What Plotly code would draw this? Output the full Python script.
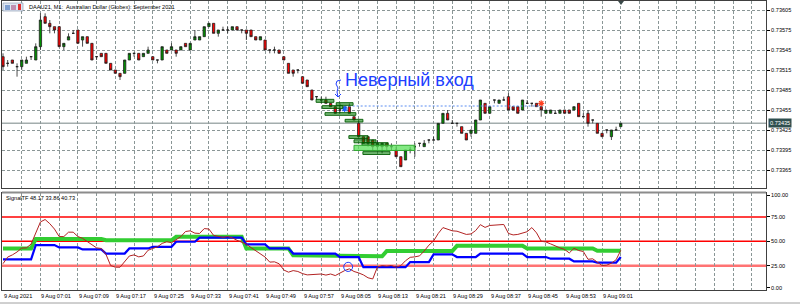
import plotly.graph_objects as go

# ---------------- data ----------------
bars = list(range(133))

open_ = [
    0.73535, 0.73525, 0.73530, 0.73520, 0.73520, 0.73525, 0.73535, 0.73530, 0.73550, 0.73595,
    0.73585, 0.73580, 0.73580, 0.73550, 0.73560, 0.73570, 0.73575, 0.73560, 0.73565, 0.73555,
    0.73535, 0.73540, 0.73540, 0.73525, 0.73515, 0.73510, 0.73510, 0.73530, 0.73540, 0.73540,
    0.73535, 0.73540, 0.73535, 0.73530, 0.73530, 0.73545, 0.73545, 0.73545, 0.73545, 0.73555,
    0.73545, 0.73560, 0.73560, 0.73565, 0.73580, 0.73585, 0.73570, 0.73575, 0.73575, 0.73575,
    0.73580, 0.73575, 0.73575, 0.73575, 0.73565, 0.73560, 0.73560, 0.73545, 0.73545, 0.73545,
    0.73535, 0.73525, 0.73515, 0.73515, 0.73505, 0.73500, 0.73485, 0.73475, 0.73470, 0.73470,
    0.73465, 0.73460, 0.73455, 0.73455, 0.73460, 0.73445, 0.73435, 0.73415, 0.73415, 0.73410,
    0.73400, 0.73400, 0.73405, 0.73400, 0.73395, 0.73385, 0.73380, 0.73395, 0.73400, 0.73405,
    0.73400, 0.73410, 0.73410, 0.73410, 0.73435, 0.73450, 0.73435, 0.73435, 0.73430, 0.73420,
    0.73420, 0.73420, 0.73440, 0.73465, 0.73450, 0.73470, 0.73465, 0.73470, 0.73475, 0.73460,
    0.73460, 0.73455, 0.73465, 0.73465, 0.73465, 0.73460, 0.73450, 0.73450, 0.73450, 0.73450,
    0.73455, 0.73455, 0.73455, 0.73465, 0.73445, 0.73450, 0.73440, 0.73435, 0.73420, 0.73425,
    0.73415, 0.73425, 0.73430,
]
high = [
    0.73540, 0.73530, 0.73530, 0.73525, 0.73530, 0.73535, 0.73535, 0.73555, 0.73600, 0.73600,
    0.73590, 0.73580, 0.73580, 0.73555, 0.73570, 0.73575, 0.73575, 0.73565, 0.73565, 0.73555,
    0.73535, 0.73540, 0.73540, 0.73525, 0.73515, 0.73510, 0.73530, 0.73540, 0.73540, 0.73540,
    0.73540, 0.73550, 0.73535, 0.73530, 0.73550, 0.73545, 0.73555, 0.73545, 0.73550, 0.73555,
    0.73555, 0.73575, 0.73565, 0.73580, 0.73585, 0.73585, 0.73575, 0.73580, 0.73580, 0.73580,
    0.73580, 0.73575, 0.73575, 0.73575, 0.73565, 0.73565, 0.73560, 0.73545, 0.73550, 0.73545,
    0.73535, 0.73525, 0.73515, 0.73515, 0.73505, 0.73500, 0.73485, 0.73475, 0.73475, 0.73475,
    0.73465, 0.73460, 0.73465, 0.73460, 0.73465, 0.73445, 0.73440, 0.73415, 0.73415, 0.73410,
    0.73410, 0.73405, 0.73405, 0.73405, 0.73400, 0.73385, 0.73395, 0.73400, 0.73405, 0.73405,
    0.73410, 0.73410, 0.73415, 0.73435, 0.73450, 0.73455, 0.73440, 0.73435, 0.73430, 0.73420,
    0.73425, 0.73440, 0.73470, 0.73465, 0.73460, 0.73470, 0.73470, 0.73475, 0.73480, 0.73460,
    0.73460, 0.73470, 0.73470, 0.73465, 0.73465, 0.73460, 0.73455, 0.73455, 0.73455, 0.73455,
    0.73455, 0.73455, 0.73460, 0.73465, 0.73450, 0.73455, 0.73440, 0.73435, 0.73420, 0.73425,
    0.73425, 0.73430, 0.73435,
]
low = [
    0.73515, 0.73520, 0.73525, 0.73505, 0.73515, 0.73525, 0.73530, 0.73530, 0.73545, 0.73585,
    0.73570, 0.73570, 0.73550, 0.73545, 0.73560, 0.73570, 0.73555, 0.73550, 0.73555, 0.73530,
    0.73530, 0.73535, 0.73525, 0.73515, 0.73510, 0.73500, 0.73510, 0.73530, 0.73535, 0.73530,
    0.73535, 0.73540, 0.73530, 0.73525, 0.73530, 0.73540, 0.73545, 0.73535, 0.73545, 0.73550,
    0.73545, 0.73560, 0.73560, 0.73565, 0.73580, 0.73570, 0.73565, 0.73575, 0.73570, 0.73575,
    0.73575, 0.73570, 0.73560, 0.73565, 0.73560, 0.73560, 0.73545, 0.73540, 0.73540, 0.73540,
    0.73530, 0.73510, 0.73505, 0.73510, 0.73495, 0.73490, 0.73470, 0.73470, 0.73465, 0.73465,
    0.73460, 0.73450, 0.73450, 0.73455, 0.73450, 0.73440, 0.73415, 0.73405, 0.73400, 0.73395,
    0.73395, 0.73390, 0.73395, 0.73395, 0.73385, 0.73370, 0.73380, 0.73390, 0.73385, 0.73400,
    0.73400, 0.73405, 0.73410, 0.73410, 0.73435, 0.73440, 0.73435, 0.73430, 0.73420, 0.73410,
    0.73415, 0.73420, 0.73440, 0.73450, 0.73450, 0.73465, 0.73465, 0.73470, 0.73455, 0.73455,
    0.73450, 0.73455, 0.73465, 0.73460, 0.73460, 0.73445, 0.73450, 0.73450, 0.73450, 0.73450,
    0.73450, 0.73450, 0.73455, 0.73445, 0.73445, 0.73430, 0.73435, 0.73420, 0.73415, 0.73420,
    0.73410, 0.73425, 0.73430,
]
close = [
    0.73520, 0.73525, 0.73525, 0.73520, 0.73530, 0.73530, 0.73535, 0.73550, 0.73590, 0.73585,
    0.73580, 0.73575, 0.73550, 0.73555, 0.73565, 0.73570, 0.73555, 0.73565, 0.73555, 0.73530,
    0.73535, 0.73535, 0.73525, 0.73515, 0.73510, 0.73505, 0.73530, 0.73540, 0.73540, 0.73530,
    0.73540, 0.73545, 0.73530, 0.73530, 0.73550, 0.73540, 0.73550, 0.73540, 0.73550, 0.73550,
    0.73555, 0.73565, 0.73565, 0.73580, 0.73585, 0.73570, 0.73575, 0.73575, 0.73575, 0.73580,
    0.73575, 0.73575, 0.73570, 0.73565, 0.73560, 0.73565, 0.73545, 0.73545, 0.73545, 0.73540,
    0.73530, 0.73510, 0.73510, 0.73515, 0.73495, 0.73490, 0.73470, 0.73475, 0.73470, 0.73465,
    0.73460, 0.73450, 0.73455, 0.73460, 0.73450, 0.73440, 0.73415, 0.73405, 0.73405, 0.73400,
    0.73405, 0.73405, 0.73400, 0.73400, 0.73385, 0.73370, 0.73395, 0.73395, 0.73400, 0.73405,
    0.73405, 0.73410, 0.73410, 0.73435, 0.73450, 0.73440, 0.73435, 0.73435, 0.73420, 0.73410,
    0.73425, 0.73440, 0.73470, 0.73450, 0.73460, 0.73470, 0.73470, 0.73470, 0.73455, 0.73455,
    0.73450, 0.73470, 0.73465, 0.73465, 0.73460, 0.73455, 0.73455, 0.73455, 0.73450, 0.73455,
    0.73450, 0.73450, 0.73460, 0.73445, 0.73445, 0.73435, 0.73440, 0.73420, 0.73415, 0.73425,
    0.73425, 0.73425, 0.73435,
]

# SignalTF indicator (sub window)
sig_green = [
    42.6, 42.6, 42.6, 42.6, 42.6, 42.6, 42.6, 52.4, 52.4, 52.4,
    52.4, 52.4, 52.4, 52.4, 52.4, 52.4, 52.4, 52.4, 52.4, 52.4,
    52.4, 52.4, 51.0, 51.0, 51.0, 51.0, 51.0, 51.0, 51.0, 51.0,
    51.0, 51.0, 51.0, 51.0, 51.0, 51.0, 51.0, 54.5, 54.5, 54.5,
    54.5, 54.5, 54.5, 54.5, 54.5, 54.5, 54.5, 54.5, 54.5, 54.5,
    54.5, 54.5, 42.6, 42.6, 42.6, 42.6, 42.6, 42.6, 42.6, 42.6,
    42.6, 42.6, 35.6, 35.6, 35.6, 35.6, 35.6, 34.6, 34.6, 34.6,
    34.6, 34.6, 34.6, 34.6, 34.6, 34.6, 34.6, 34.6, 34.6, 34.6,
    34.6, 34.6, 40.0, 40.0, 40.0, 40.0, 40.0, 40.0, 40.0, 40.0,
    40.0, 40.0, 40.0, 40.0, 40.0, 40.0, 40.0, 45.3, 45.3, 45.3,
    45.3, 45.3, 45.3, 45.3, 45.3, 45.3, 45.3, 45.3, 45.3, 45.3,
    45.3, 45.3, 42.6, 42.6, 42.6, 42.6, 42.6, 42.6, 42.6, 42.6,
    42.6, 42.6, 42.6, 42.6, 42.6, 42.6, 42.6, 40.2, 40.2, 40.2,
    40.2, 40.2, 40.2,
]
sig_blue = [
    31.4, 31.4, 31.4, 31.4, 31.4, 31.4, 31.4, 46.1, 46.1, 46.1,
    46.1, 46.1, 43.7, 43.7, 43.7, 43.7, 43.7, 41.6, 41.6, 41.6,
    41.6, 41.6, 37.4, 37.4, 37.4, 37.4, 37.4, 42.6, 42.6, 42.6,
    42.6, 42.6, 44.3, 44.3, 44.3, 44.3, 44.3, 49.5, 49.5, 49.5,
    49.5, 49.5, 53.7, 53.7, 53.7, 53.7, 53.7, 53.7, 53.7, 53.7,
    53.7, 53.7, 46.8, 46.8, 46.8, 46.8, 46.8, 42.6, 42.6, 42.6,
    42.6, 42.6, 37.4, 37.4, 37.4, 37.4, 37.4, 37.4, 37.4, 37.4,
    37.4, 37.4, 33.8, 33.8, 33.8, 33.8, 33.8, 23.4, 23.4, 23.4,
    23.4, 23.4, 23.4, 23.4, 23.4, 23.4, 23.4, 28.6, 28.6, 28.6,
    28.6, 28.6, 36.6, 36.6, 36.6, 36.6, 36.6, 33.8, 33.8, 33.8,
    33.8, 33.8, 37.4, 37.4, 37.4, 37.4, 37.4, 37.4, 37.4, 37.4,
    37.4, 37.4, 33.8, 33.8, 33.8, 33.8, 33.8, 32.1, 32.1, 32.1,
    32.1, 32.1, 29.3, 29.3, 29.3, 29.3, 29.3, 28.0, 28.0, 28.0,
    28.0, 28.0, 33.9,
]
sig_brown = [
    27.0, 33.8, 36.0, 39.0, 43.0, 43.2, 47.1, 58.3, 69.8, 72.3,
    68.0, 62.5, 54.8, 54.8, 59.3, 59.3, 54.8, 53.0, 49.5, 46.0,
    43.2, 42.6, 36.6, 25.1, 23.4, 23.4, 29.3, 34.9, 36.0, 34.0,
    34.9, 40.8, 42.6, 44.3, 47.8, 49.5, 48.5, 52.0, 54.8, 60.0,
    60.7, 58.3, 58.0, 63.0, 62.5, 56.0, 54.8, 54.0, 54.8, 53.5,
    51.0, 49.0, 47.0, 43.5, 40.5, 37.4, 33.8, 28.6, 28.9, 26.9,
    20.5, 18.3, 19.9, 19.0, 16.8, 15.5, 16.0, 16.4, 16.4, 15.3,
    16.4, 14.8, 17.5, 19.9, 21.7, 19.0, 17.5, 15.5, 12.5, 11.3,
    23.6, 25.0, 24.5, 25.1, 23.4, 25.0, 30.0, 33.5, 34.0, 35.0,
    40.0, 46.0, 50.3, 58.0, 64.0, 62.0, 60.7, 60.3, 59.0, 57.0,
    57.5, 61.0, 67.0, 64.2, 66.2, 66.5, 66.5, 67.2, 58.0, 56.5,
    57.0, 58.5, 59.8, 64.0, 58.6, 50.0, 49.3, 47.3, 45.0, 43.2,
    41.6, 38.0, 42.8, 40.5, 39.5, 31.5, 32.0, 28.3, 25.1, 25.5,
    27.5, 31.0, 40.7,
]
levels = [75, 50, 25]

price_ticks = [0.73605, 0.73575, 0.73545, 0.73515, 0.73485, 0.73455, 0.73425, 0.73395, 0.73365]
last_price = 0.73435

time_tick_bars = [0, 8, 16, 24, 32, 40, 48, 56, 64, 72, 80, 88, 96, 104, 112, 120, 128]
time_tick_labels = ["9 Aug 2021", "9 Aug 07:01", "9 Aug 07:09", "9 Aug 07:17", "9 Aug 07:25",
                    "9 Aug 07:33", "9 Aug 07:41", "9 Aug 07:49", "9 Aug 07:57", "9 Aug 08:05",
                    "9 Aug 08:13", "9 Aug 08:21", "9 Aug 08:29", "9 Aug 08:37", "9 Aug 08:45",
                    "9 Aug 08:53", "9 Aug 09:01"]

# green zone boxes: bar0, bar1, price0, price1
box_bar0 = [66.9, 68.2, 71.2, 68.8, 73.1, 73.9, 75.0, 76.7, 76.9]
box_bar1 = [70.7, 72.6, 74.8, 75.4, 76.9, 78.0, 79.7, 82.3, 82.7]
box_p0 = [0.734665, 0.734573, 0.734620, 0.734470, 0.734370, 0.734123, 0.734058, 0.734020, 0.733883]
box_p1 = [0.734710, 0.734615, 0.734660, 0.734510, 0.734410, 0.734165, 0.734103, 0.734060, 0.733925]
big_box = [75.0, 88.0, 0.733943, 0.734021]

trade_bars = [73, 115]
trade_prices = [0.73461, 0.73461]
trade_open_p = 0.734565
trade_close_p = 0.73465

# ---------------- layout helpers ----------------
W, H = 800, 307
ML, MR, MT, MB = 2, 34, 1, 17
PW, PH = W - ML - MR, H - MT - MB


def px(x):
    return (x - ML) / PW


def py(y):
    return (H - MB - y) / PH


FONT = "Liberation Sans"
GRID = "#8a9696"

fig = go.Figure()

fig.add_trace(go.Candlestick(
    x=bars, open=open_, high=high, low=low, close=close,
    xaxis="x", yaxis="y", whiskerwidth=0, showlegend=False, hoverinfo="skip",
    increasing=dict(fillcolor="#009000", line=dict(color="#202020", width=0.8)),
    decreasing=dict(fillcolor="#FF0000", line=dict(color="#202020", width=0.8)),
))

# trade line + markers
fig.add_trace(go.Scatter(x=trade_bars, y=trade_prices, mode="lines", xaxis="x", yaxis="y",
                         line=dict(color="#5a8cf0", width=1, dash="2px,2px"),
                         showlegend=False, hoverinfo="skip"))
fig.add_trace(go.Scatter(x=[trade_bars[0]], y=[trade_open_p], mode="markers", xaxis="x", yaxis="y",
                         marker=dict(symbol="asterisk-open", size=5, color="#1e64ff",
                                     line=dict(color="#1e64ff", width=1.2)),
                         showlegend=False, hoverinfo="skip"))
fig.add_trace(go.Scatter(x=[trade_bars[1]], y=[trade_close_p], mode="markers", xaxis="x", yaxis="y",
                         marker=dict(symbol="asterisk-open", size=5, color="#ff4020",
                                     line=dict(color="#ff4020", width=1.2)),
                         showlegend=False, hoverinfo="skip"))

# indicator lines
fig.add_trace(go.Scatter(x=bars, y=sig_green, mode="lines", xaxis="x2", yaxis="y2",
                         line=dict(color="#32CD32", width=4), showlegend=False, hoverinfo="skip"))
fig.add_trace(go.Scatter(x=bars, y=sig_blue, mode="lines", xaxis="x2", yaxis="y2",
                         line=dict(color="#0000FF", width=2.2), showlegend=False, hoverinfo="skip"))
fig.add_trace(go.Scatter(x=bars, y=sig_brown, mode="lines", xaxis="x2", yaxis="y2",
                         line=dict(color="#B22222", width=1), showlegend=False, hoverinfo="skip"))

shapes = []
# green boxes
for b0, b1, p0, p1 in zip(box_bar0, box_bar1, box_p0, box_p1):
    shapes.append(dict(type="rect", xref="x", yref="y", x0=b0, x1=b1, y0=p0, y1=p1,
                       fillcolor="rgba(0,128,0,0.55)", line=dict(color="rgba(0,90,0,0.9)", width=1),
                       layer="above"))
shapes.append(dict(type="rect", xref="x", yref="y", x0=big_box[0], x1=big_box[1],
                   y0=big_box[2], y1=big_box[3], fillcolor="rgba(90,225,90,0.75)",
                   line=dict(color="rgba(50,170,50,1)", width=1), layer="above"))

# current price line
shapes.append(dict(type="line", xref="paper", yref="y", x0=0, x1=1, y0=last_price, y1=last_price,
                   line=dict(color="#a3adad", width=1.5), layer="below"))

# indicator levels
for lv in levels:
    if lv == 25:
        shapes.append(dict(type="line", xref="paper", yref="y2", x0=0, x1=1, y0=lv, y1=lv,
                           line=dict(color="rgba(255,90,90,0.85)", width=2.5), layer="below"))
    else:
        shapes.append(dict(type="line", xref="paper", yref="y2", x0=0, x1=1, y0=lv, y1=lv,
                           line=dict(color="#FF0000", width=1.5), layer="below"))
# sub window top separator
shapes.append(dict(type="line", xref="paper", yref="paper", x0=0, x1=1, y0=py(192.5), y1=py(192.5),
                   line=dict(color="#8c8c8c", width=2)))

# hand-drawn bracket with arrow
shapes.append(dict(type="path", xref="x", yref="y",
                   path="M 72.22 0.73500 L 71.37 0.734985 L 71.15 0.73494 L 71.58 0.73488 "
                        "L 71.37 0.73482 L 71.58 0.734745 M 70.94 0.73479 L 71.58 0.734745 L 72.22 0.73479",
                   line=dict(color="#2040ff", width=1)))
# hand-drawn circle in sub window
shapes.append(dict(type="circle", xref="x2", yref="y2", x0=72.8, x1=74.7, y0=19.0, y1=28.4,
                   line=dict(color="#2040ff", width=1)))

# header icon
shapes.append(dict(type="rect", xref="paper", yref="paper", x0=px(3), x1=px(23), y0=py(11), y1=py(3),
                   fillcolor="#dfe6f2", line=dict(color="#8090a8", width=0.6)))
shapes.append(dict(type="rect", xref="paper", yref="paper", x0=px(5), x1=px(10), y0=py(10), y1=py(5),
                   fillcolor="#7f9fd0", line=dict(width=0)))
shapes.append(dict(type="rect", xref="paper", yref="paper", x0=px(11), x1=px(16), y0=py(10), y1=py(5),
                   fillcolor="#c08fb0", line=dict(width=0)))
shapes.append(dict(type="rect", xref="paper", yref="paper", x0=px(18), x1=px(21), y0=py(10), y1=py(4),
                   fillcolor="#e03030", line=dict(width=0)))
# chart shift marker
shapes.append(dict(type="path", xref="paper", yref="paper",
                   path=f"M {px(618)} {py(1)} L {px(624)} {py(1)} L {px(621)} {py(5)} Z",
                   fillcolor="#3a4a4a", line=dict(width=0)))
# bottom tab strip
shapes.append(dict(type="line", xref="paper", yref="paper", x0=px(0), x1=px(800), y0=py(303), y1=py(303),
                   line=dict(color="#a0a0a0", width=1)))

annotations = []
annotations.append(dict(xref="paper", yref="paper", x=px(27), y=py(7), xanchor="left", yanchor="middle",
                        text="DAAU21, M1:  Australian Dollar (Globex): September 2021", showarrow=False,
                        font=dict(family=FONT, size=5.6, color="#000000")))
annotations.append(dict(xref="paper", yref="paper", x=px(4), y=py(198.5), xanchor="left", yanchor="middle",
                        text="SignalTF 48.17 33.86 40.73", showarrow=False,
                        font=dict(family=FONT, size=5.6, color="#000000")))
for b, t in zip(time_tick_bars, time_tick_labels):
    annotations.append(dict(xref="x2", yref="paper", x=b, y=py(296), xanchor="left", yanchor="middle",
                            xshift=-1, text=t, showarrow=False,
                            font=dict(family=FONT, size=5.6, color="#000000")))
annotations.append(dict(xref="paper", yref="y", x=1, y=last_price, xanchor="left", yanchor="middle",
                        xshift=2, text="0.73435", showarrow=False, bgcolor="#2F4F4F", borderpad=1,
                        font=dict(family=FONT, size=5.6, color="#ffffff")))
annotations.append(dict(xref="x", yref="y", x=72.6, y=0.73500, xanchor="left", yanchor="middle",
                        text="Неверный вход", showarrow=False,
                        font=dict(family=FONT, size=18, color="#2040ff")))

axis_common = dict(showgrid=True, gridcolor=GRID, griddash="3px,2px", gridwidth=1, zeroline=False,
                   showline=True, linecolor="#404040", linewidth=1, mirror=True)

fig.update_layout(
    width=W, height=H, margin=dict(l=ML, r=MR, t=MT, b=MB),
    paper_bgcolor="#ffffff", plot_bgcolor="#ffffff",
    font=dict(family=FONT, size=5.6, color="#000000"),
    showlegend=False,
    xaxis=dict(domain=[0, 1], anchor="y", range=[-0.214, 163.03], tick0=0, dtick=4,
               showticklabels=False, ticks="", rangeslider=dict(visible=False), **axis_common),
    yaxis=dict(domain=[py(188), 1], anchor="x", side="right",
               range=[0.73338, 0.736185], tickvals=price_ticks, tickformat=".5f",
               ticks="outside", ticklen=3, tickcolor="#000000",
               tickfont=dict(family=FONT, size=5.6, color="#000000"), **axis_common),
    xaxis2=dict(domain=[0, 1], anchor="y2", matches="x", tick0=0, dtick=4,
                showticklabels=False, ticks="", **axis_common),
    yaxis2=dict(domain=[0, py(192.5)], anchor="x2", side="right", range=[0, 100],
                tickvals=[97, 75, 50, 25, 2.3], ticktext=["100.00", "75.00", "50.00", "25.00", "0.00"],
                ticks="outside", ticklen=3, tickcolor="#000000",
                tickfont=dict(family=FONT, size=5.6, color="#000000"),
                showgrid=False, zeroline=False, showline=True, linecolor="#404040", linewidth=1, mirror=True),
    shapes=shapes, annotations=annotations,
)

fig.write_html("out.html")
